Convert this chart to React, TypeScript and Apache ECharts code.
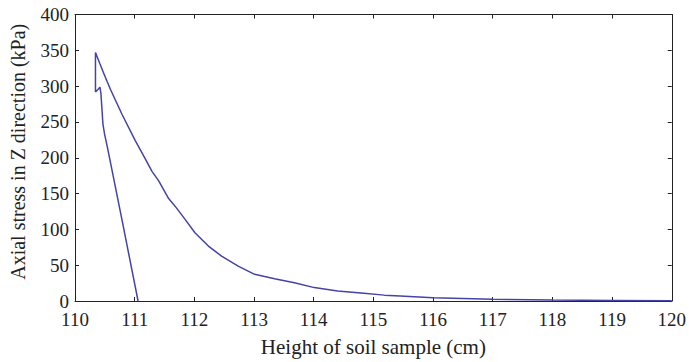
import React, { useEffect, useRef } from "react";
import * as echarts from "echarts";

const xTicks = [110, 111, 112, 113, 114, 115, 116, 117, 118, 119, 120];
const yTicks = [0, 50, 100, 150, 200, 250, 300, 350, 400];

// loading branch, from 120 cm towards the peak
const loadingX = [120, 119, 118, 117, 116, 115.45, 115.18, 114.84, 114.4, 114.01, 113.677, 113.344, 113.01, 112.734, 112.456, 112.235, 112.01, 111.845, 111.7, 111.569, 111.4, 111.29, 111.18, 111.01, 110.791, 110.68, 110.597, 110.54, 110.486, 110.414, 110.343];
const loadingY = [0.3, 0.7, 1.3, 2.5, 4.5, 7, 8.2, 10.7, 13.9, 18.7, 25.6, 31.2, 37.2, 48.8, 62.7, 76.7, 95.3, 113.9, 130, 143, 168, 181, 198, 224, 260, 280, 295, 306, 317, 332, 347];
// unloading branch, from the peak down to zero
const unloadingX = [110.343, 110.38, 110.418, 110.435, 110.468, 110.498, 110.54, 110.8, 111.057];
const unloadingY = [292, 295, 298.5, 289, 247, 232, 216, 108, 0];

export default function App() {
  const ref = useRef<HTMLDivElement>(null);
  useEffect(() => {
    if (!ref.current) return;
    const chart = echarts.init(ref.current, null, { renderer: "svg" });
    const data: number[][] = [];
    loadingX.forEach((x, i) => data.push([x, loadingY[i]]));
    unloadingX.forEach((x, i) => data.push([x, unloadingY[i]]));
    const font = "Liberation Serif";
    const axisLine = { show: true, onZero: false, lineStyle: { color: "#222", width: 1 } };
    const tick = { show: true, inside: true, length: 4, lineStyle: { color: "#222" } };
    chart.setOption({
      animation: false,
      grid: { left: 72.5, right: 16, top: 14.5, bottom: 60.3, containLabel: false },
      xAxis: [
        {
          type: "value",
          min: 110,
          max: 120,
          interval: 1,
          axisLine,
          axisTick: tick,
          splitLine: { show: false },
          axisLabel: { color: "#222", fontFamily: font, fontSize: 19, margin: 9 },
          name: "Height of soil sample (cm)",
          nameLocation: "middle",
          nameGap: 35,
          nameTextStyle: { color: "#222", fontFamily: font, fontSize: 21 },
        },
        {
          type: "value",
          position: "top",
          min: 110,
          max: 120,
          interval: 1,
          axisLine,
          axisTick: tick,
          axisLabel: { show: false },
          splitLine: { show: false },
        },
      ],
      yAxis: [
        {
          type: "value",
          min: 0,
          max: 400,
          interval: 50,
          axisLine,
          axisTick: tick,
          splitLine: { show: false },
          axisLabel: { color: "#222", fontFamily: font, fontSize: 19, margin: 6 },
          name: "Axial stress in Z direction (kPa)",
          nameLocation: "middle",
          nameGap: 47,
          nameTextStyle: { color: "#222", fontFamily: font, fontSize: 20, padding: [0, 0, 0, 12] },
        },
        {
          type: "value",
          position: "right",
          min: 0,
          max: 400,
          interval: 50,
          axisLine,
          axisTick: tick,
          axisLabel: { show: false },
          splitLine: { show: false },
        },
      ],
      series: [
        {
          type: "line",
          data,
          showSymbol: false,
          symbol: "none",
          lineStyle: { color: "#4343a8", width: 1.5 },
          xAxisIndex: 0,
          yAxisIndex: 0,
        },
      ],
    });
    return () => chart.dispose();
  }, []);
  return <div ref={ref} style={{ width: 689, height: 362, position: "absolute", left: 0, top: 0 }} />;
}
